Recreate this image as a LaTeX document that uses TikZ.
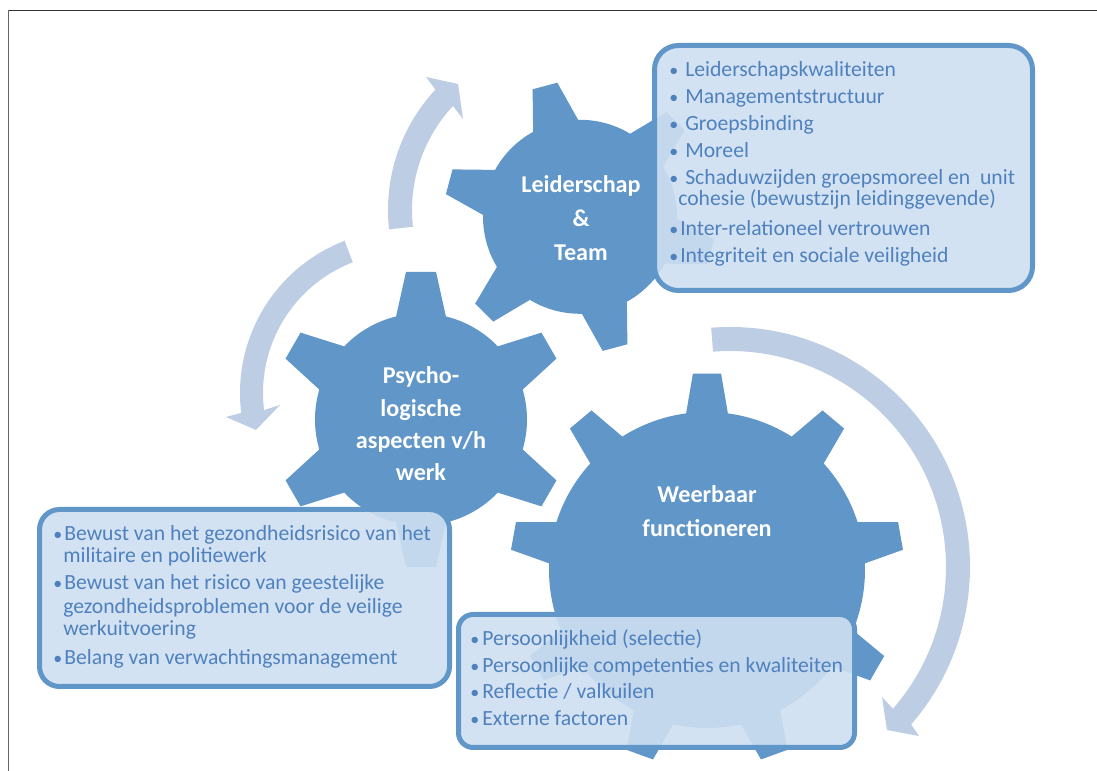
\documentclass[tikz,border=0pt]{standalone}
\usepackage{fontspec}
\setmainfont{Carlito}
\usetikzlibrary{calc}

\definecolor{gearblue}{HTML}{6096C8}
\definecolor{arrowblue}{HTML}{BDCDE3}
\definecolor{boxblue}{HTML}{CEDFF2}
\definecolor{textblue}{HTML}{4F81BD}

\newcommand{\itemdot}[1]{\makebox[#1][l]{\hspace{-0.6pt}\raisebox{0.6pt}{\fontsize{13.5}{16}\selectfont\textbullet}}}

% center x, center y, body radius, tip radius, teeth, rotation, tip half angle, root half angle
\newcommand{\cog}[8]{
  \begin{scope}[shift={(#1,#2)}]
    \fill[gearfill] (#6-#8:#3)
      \foreach \i [evaluate=\i as \a using #6+\i*360/#5] in {1,...,#5} {
        -- (\a-#8:#3) -- (\a-#7:#4) -- (\a+#7:#4) -- (\a+#8:#3)
        arc[start angle=\a+#8, end angle=\a+360/#5-#8, radius=#3]
      } -- cycle;
  \end{scope}
}

\begin{document}
\begin{tikzpicture}[x=0.75pt, y=0.75pt,
    gearfill/.style={fill=gearblue},
    arrowfill/.style={fill=arrowblue},
    listbox/.style={draw=gearblue, line width=3.75pt, fill=boxblue, fill opacity=0.9, draw opacity=1},
    listitem/.style={anchor=base west, inner sep=0pt, align=left, text=textblue, yshift=-0.75pt,
      font=\fontsize{16.25}{16}\selectfont},
    gearlabel/.style={inner sep=0pt, align=center, text=white,
      font=\fontsize{18.1}{25}\selectfont\bfseries}]
  \useasboundingbox (0,0) rectangle (1097,771);

  \draw[draw=black!80, line width=0.75pt] (1097,760.5) -- (8.5,760.5);
  \draw[draw=black!60, line width=0.75pt] (8.5,760.5) -- (8.5,0);

  \coordinate (topc) at (564.5,561);
  \coordinate (leftc) at (403,378);
  \coordinate (rightc) at (730,204);

  \fill[arrowfill] ($(topc)+(186.3:176.5)$) arc[start angle=186.3, end angle=137, radius=176.5]
    -- (426,694) -- (458,687) -- (463,652) -- ($(topc)+(137:152.5)$)
    arc[start angle=137, end angle=186.3, radius=152.5] -- cycle;
  \fill[arrowfill] ($(leftc)+(111:163)$) arc[start angle=111, end angle=187, radius=163]
    -- (226,354) -- (256,341) -- (280,366) -- ($(leftc)+(187:140)$)
    arc[start angle=187, end angle=111, radius=140] -- cycle;
  \fill[arrowfill] ($(rightc)+(94.5:240)$) arc[start angle=94.5, end angle=-41, radius=240]
    -- (919,35) -- (887,41) -- (882,74) -- ($(rightc)+(-41:216)$)
    arc[start angle=-41, end angle=94.5, radius=216] -- cycle;

  \cog{580}{554.2}{97}{136}{6}{105}{5.4}{13.9}
  \cog{421}{351.5}{106}{148.5}{6}{90}{5.8}{13.6}
  \cog{707}{201}{158}{197}{9}{90}{4.1}{7.6}

  \node[gearlabel] (leiderschap) at (581,553) {Leiderschap\\[.5pt]\&\\[.5pt]Team};
  \node[gearlabel] (psycho) at (421,347) {Psycho-\\[-.7pt]logische\\[-.7pt]aspecten v/h\\[-.7pt]werk};
  \node[gearlabel] (weerbaar) at (707,260) {Weerbaar\\[1pt]functioneren};

  \draw[listbox, rounded corners=18pt] (654.5,725.5) rectangle (1032.5,480.5);
  \draw[listbox, rounded corners=15pt] (39.5,261.5) rectangle (449.5,84.5);
  \draw[listbox, rounded corners=11pt] (458.5,156.5) rectangle (854.5,23.5);

  \node[listitem] (kwaliteiten) at (670,695) {\itemdot{11.25pt}Leiderschapskwaliteiten};
  \node[listitem] (structuur) at (670,668) {\itemdot{11.25pt}Managementstructuur};
  \node[listitem] (binding) at (670,641) {\itemdot{11.25pt}Groepsbinding};
  \node[listitem] (moreel) at (670,614) {\itemdot{11.25pt}Moreel};
  \node[listitem] (schaduw) at (670,566) {\itemdot{11.25pt}Schaduwzijden groepsmoreel en\ \ unit\\[-.25pt]\hspace{6pt}cohesie (bewustzijn leidinggevende)};
  \node[listitem] (vertrouwen) at (670,536) {\itemdot{7.5pt}Inter-relationeel vertrouwen};
  \node[listitem] (integriteit) at (670,509) {\itemdot{7.5pt}Integriteit en sociale veiligheid};

  \node[listitem] (risico) at (54,209) {\itemdot{7.5pt}Bewust van het gezondheidsrisico van het\\[.5pt]\hspace{6.75pt}militaire en politiewerk};
  \node[listitem] (geestelijk) at (54,136) {\itemdot{7.5pt}Bewust van het risico van geestelijke\\[2pt]\hspace{6.75pt}gezondheidsproblemen voor de veilige\\[.5pt]\hspace{6.75pt}werkuitvoering};
  \node[listitem] (belang) at (54,107) {\itemdot{7.5pt}Belang van verwachtingsmanagement};

  \node[listitem] (selectie) at (471,126) {\itemdot{8.25pt}Persoonlijkheid (selectie)};
  \node[listitem] (competenties) at (471,99) {\itemdot{8.25pt}Persoonlijke competenties en kwaliteiten};
  \node[listitem] (reflectie) at (471,73) {\itemdot{8.25pt}Reflectie / valkuilen};
  \node[listitem] (extern) at (471,46) {\itemdot{8.25pt}Externe factoren};
\end{tikzpicture}
\end{document}
